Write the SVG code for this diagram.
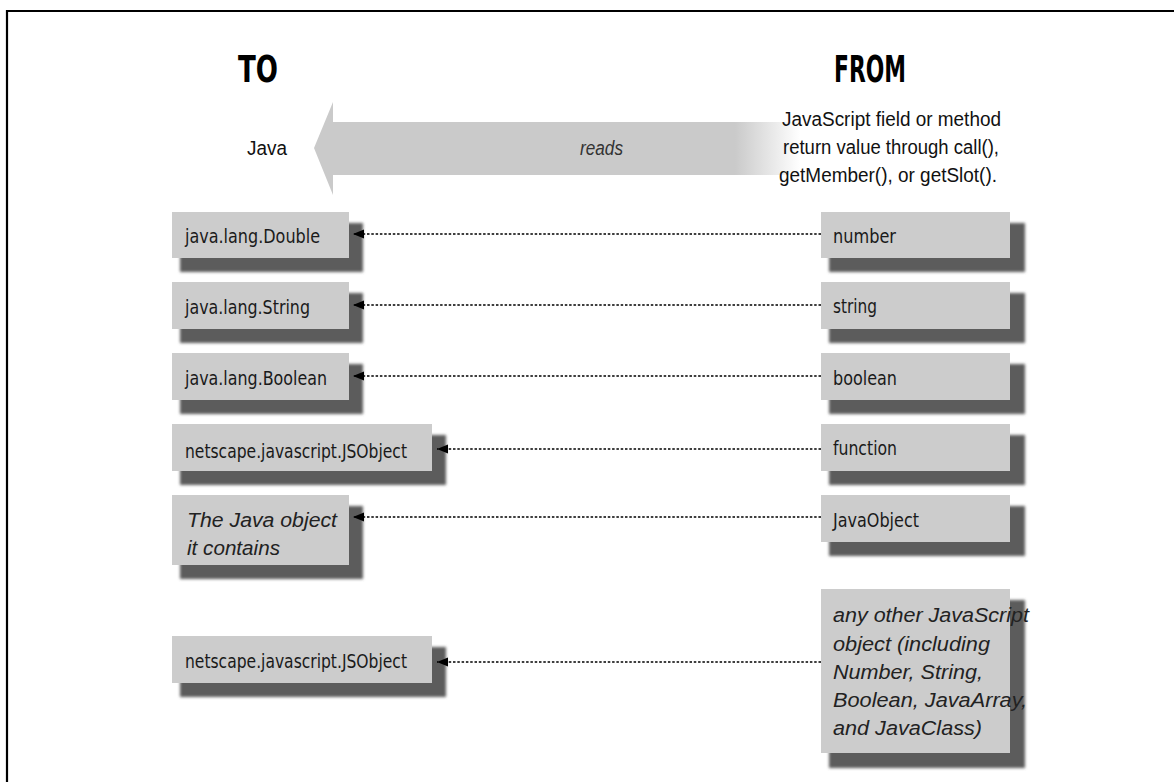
<svg xmlns="http://www.w3.org/2000/svg" width="1174" height="782" viewBox="0 0 1174 782">
<style>
.frame{fill:none;stroke:#000;stroke-width:2.2}
.box{fill:#cccccc}
.shadow{fill:#5c5c5c;filter:url(#blur)}
.lbl{font-family:"DejaVu Sans Condensed","Liberation Sans Narrow","DejaVu Sans",sans-serif;font-size:20px;fill:#1a1a1a}
.ital{font-family:"Liberation Sans",Arial,sans-serif;font-style:italic;font-size:20px;fill:#222}
.plain{font-family:"Liberation Sans",Arial,sans-serif;font-size:20px;fill:#111}
.title{font-family:"DejaVu Sans Condensed","Liberation Sans Narrow","DejaVu Sans",sans-serif;font-weight:bold;font-size:38px;fill:#000}
.conn{stroke:#000;stroke-width:1.3;stroke-dasharray:2.5 1.8;fill:none;marker-end:url(#ah)}
</style>
<defs>
<filter id="blur" x="-10%" y="-20%" width="120%" height="140%"><feGaussianBlur stdDeviation="1.4"/></filter>
<filter id="soft" x="-5%" y="-10%" width="110%" height="120%"><feGaussianBlur stdDeviation="0.7"/></filter>
<linearGradient id="fade" gradientUnits="userSpaceOnUse" x1="735" y1="0" x2="800" y2="0">
<stop offset="0" stop-color="#cacaca"/>
<stop offset="1" stop-color="#ffffff"/>
</linearGradient>
<marker id="ah" markerUnits="userSpaceOnUse" markerWidth="12" markerHeight="10" refX="11" refY="4.5" orient="auto">
<path d="M0,0 L11,4.5 L0,9 z" fill="#000"/>
</marker>
</defs>
<rect width="1174" height="782" fill="#fff"/>
<path class="frame" d="M7,782 V11 H1174"/>

<g id="headers">
<text class="title" x="258" y="82" text-anchor="middle" textLength="40" lengthAdjust="spacingAndGlyphs">TO</text>
<text class="title" x="870" y="82" text-anchor="middle" textLength="72" lengthAdjust="spacingAndGlyphs">FROM</text>
</g>

<g id="reads-arrow">
<path d="M314,148 L333,102 L333,122 L800,122 L800,175 L333,175 L333,195 Z" fill="url(#fade)" filter="url(#soft)"/>
<text class="ital" x="580" y="155" textLength="43" lengthAdjust="spacingAndGlyphs" style="fill:#333">reads</text>
</g>

<g id="java-label">
<text class="plain" x="247" y="155" textLength="40" lengthAdjust="spacingAndGlyphs">Java</text>
</g>

<g id="from-label">
<text class="plain" x="782" y="126" textLength="219" lengthAdjust="spacingAndGlyphs">JavaScript field or method</text>
<text class="plain" x="783" y="154" textLength="216" lengthAdjust="spacingAndGlyphs">return value through call(),</text>
<text class="plain" x="779" y="182" textLength="218" lengthAdjust="spacingAndGlyphs">getMember(), or getSlot().</text>
</g>

<g id="to-double">
<rect class="shadow" x="180" y="223" width="183" height="49"/>
<rect class="box" x="172" y="212" width="177" height="46"/>
<text class="lbl" x="185" y="243" textLength="135" lengthAdjust="spacingAndGlyphs">java.lang.Double</text>
</g>
<g id="to-string">
<rect class="shadow" x="180" y="293" width="183" height="50"/>
<rect class="box" x="172" y="282" width="177" height="47"/>
<text class="lbl" x="185" y="314" textLength="125" lengthAdjust="spacingAndGlyphs">java.lang.String</text>
</g>
<g id="to-boolean">
<rect class="shadow" x="180" y="364" width="183" height="50"/>
<rect class="box" x="172" y="353" width="177" height="47"/>
<text class="lbl" x="185" y="385" textLength="142" lengthAdjust="spacingAndGlyphs">java.lang.Boolean</text>
</g>
<g id="to-jsobject-1">
<rect class="shadow" x="180" y="435" width="266" height="50"/>
<rect class="box" x="172" y="424" width="260" height="47"/>
<text class="lbl" x="185" y="458" textLength="222" lengthAdjust="spacingAndGlyphs">netscape.javascript.JSObject</text>
</g>
<g id="to-javaobject">
<rect class="shadow" x="180" y="506" width="183" height="73"/>
<rect class="box" x="172" y="495" width="177" height="70"/>
<text class="ital" x="187" y="527" textLength="150" lengthAdjust="spacingAndGlyphs">The Java object</text>
<text class="ital" x="187" y="555" textLength="93" lengthAdjust="spacingAndGlyphs">it contains</text>
</g>
<g id="to-jsobject-2">
<rect class="shadow" x="180" y="647" width="266" height="50"/>
<rect class="box" x="172" y="636" width="260" height="47"/>
<text class="lbl" x="185" y="668" textLength="222" lengthAdjust="spacingAndGlyphs">netscape.javascript.JSObject</text>
</g>

<g id="from-number">
<rect class="shadow" x="829" y="223" width="196" height="49"/>
<rect class="box" x="821" y="212" width="189" height="46"/>
<text class="lbl" x="833" y="243" textLength="63" lengthAdjust="spacingAndGlyphs">number</text>
</g>
<g id="from-string">
<rect class="shadow" x="829" y="293" width="196" height="50"/>
<rect class="box" x="821" y="282" width="189" height="47"/>
<text class="lbl" x="833" y="313" textLength="44" lengthAdjust="spacingAndGlyphs">string</text>
</g>
<g id="from-boolean">
<rect class="shadow" x="829" y="364" width="196" height="50"/>
<rect class="box" x="821" y="353" width="189" height="47"/>
<text class="lbl" x="833" y="385" textLength="64" lengthAdjust="spacingAndGlyphs">boolean</text>
</g>
<g id="from-function">
<rect class="shadow" x="829" y="435" width="196" height="50"/>
<rect class="box" x="821" y="424" width="189" height="47"/>
<text class="lbl" x="833" y="455" textLength="64" lengthAdjust="spacingAndGlyphs">function</text>
</g>
<g id="from-javaobject">
<rect class="shadow" x="829" y="506" width="196" height="50"/>
<rect class="box" x="821" y="495" width="189" height="47"/>
<text class="lbl" x="833" y="527" textLength="86" lengthAdjust="spacingAndGlyphs">JavaObject</text>
</g>
<g id="from-other">
<rect class="shadow" x="829" y="600" width="196" height="168"/>
<rect class="box" x="821" y="589" width="189" height="164"/>
<text class="ital" x="833" y="622" textLength="196" lengthAdjust="spacingAndGlyphs">any other JavaScript</text>
<text class="ital" x="833" y="651" textLength="157" lengthAdjust="spacingAndGlyphs">object (including</text>
<text class="ital" x="833" y="679" textLength="150" lengthAdjust="spacingAndGlyphs">Number, String,</text>
<text class="ital" x="833" y="707" textLength="194" lengthAdjust="spacingAndGlyphs">Boolean, JavaArray,</text>
<text class="ital" x="833" y="735" textLength="149" lengthAdjust="spacingAndGlyphs">and JavaClass)</text>
</g>

<g id="connectors">
<line class="conn" x1="821" y1="234" x2="353" y2="234"/>
<line class="conn" x1="821" y1="305" x2="353" y2="305"/>
<line class="conn" x1="821" y1="376" x2="353" y2="376"/>
<line class="conn" x1="821" y1="449" x2="437" y2="449"/>
<line class="conn" x1="821" y1="517" x2="353" y2="517"/>
<line class="conn" x1="821" y1="662" x2="437" y2="662"/>
</g>
</svg>
